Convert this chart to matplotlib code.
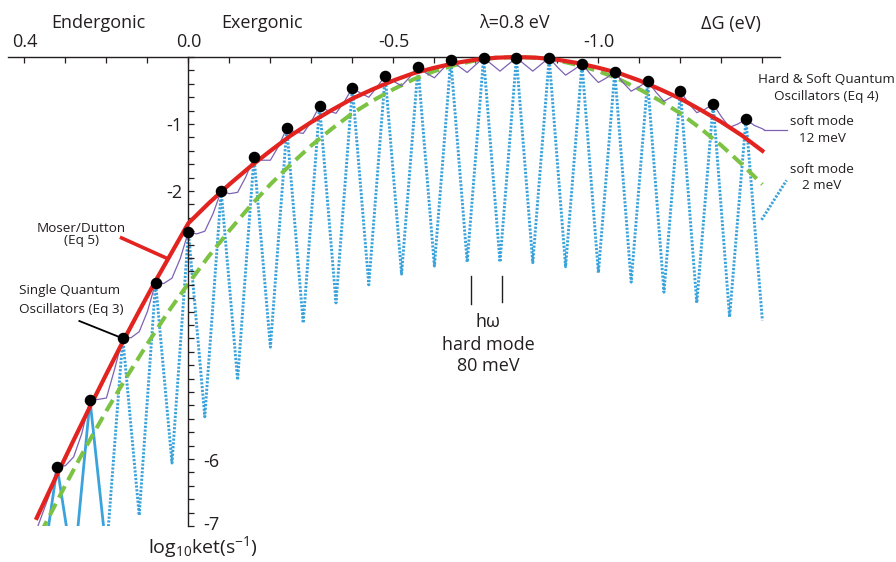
import matplotlib
matplotlib.use('Agg')
import matplotlib.pyplot as plt
from matplotlib.ticker import MultipleLocator

plt.rcParams['font.family'] = ['Open Sans', 'DejaVu Sans']
plt.rcParams['mathtext.fontset'] = 'custom'
plt.rcParams['mathtext.rm'] = 'Open Sans'
plt.rcParams['mathtext.it'] = 'Open Sans:italic'

# vibronic peaks (single quantum oscillators, black dots), dG in eV, log10 k relative
peak_dg = [0.32, 0.24, 0.16, 0.08, 0.00, -0.08, -0.16, -0.24, -0.32, -0.40, -0.48,
           -0.56, -0.64, -0.72, -0.80, -0.88, -0.96, -1.04, -1.12, -1.20, -1.28, -1.36]
peak_logk = [-6.12, -5.12, -4.19, -3.37, -2.61, -2.00, -1.49, -1.06, -0.73, -0.46, -0.28,
             -0.15, -0.04, -0.01, -0.01, -0.01, -0.10, -0.22, -0.36, -0.51, -0.70, -0.93]

# minima of the 2 meV soft mode curve between the peaks
trough_dg = [0.36, 0.28, 0.20, 0.12, 0.04, -0.04, -0.12, -0.20, -0.28, -0.36, -0.44, -0.52,
             -0.60, -0.68, -0.76, -0.84, -0.92, -1.00, -1.08, -1.16, -1.24, -1.32, -1.40]
trough_logk = [-7.8, -7.7, -7.4, -6.84, -6.06, -5.37, -4.82, -4.33, -3.97, -3.67, -3.40, -3.24,
               -3.12, -3.06, -3.06, -3.07, -3.13, -3.22, -3.36, -3.51, -3.67, -3.88, -3.93]

# Moser/Dutton (Eq 5)
red_dg = [0.37, 0.36, 0.32, 0.28, 0.24, 0.20, 0.16, 0.12, 0.08, 0.04,
          0.00, -0.05, -0.10, -0.15, -0.20, -0.25, -0.30, -0.35, -0.40, -0.45, -0.50,
          -0.55, -0.60, -0.65, -0.70, -0.75, -0.80, -0.85, -0.90, -0.95, -1.00, -1.05,
          -1.10, -1.15, -1.20, -1.25, -1.30, -1.35, -1.40]
red_logk = [-6.88, -6.75, -6.23, -5.72, -5.22, -4.73, -4.25, -3.79, -3.34, -2.91,
            -2.48, -2.18, -1.90, -1.64, -1.40, -1.17, -0.97, -0.79, -0.62, -0.48, -0.35,
            -0.24, -0.16, -0.09, -0.04, -0.01, 0.00, -0.01, -0.04, -0.09, -0.16, -0.24,
            -0.35, -0.48, -0.62, -0.79, -0.97, -1.17, -1.40]

# classical Marcus (green dashed)
green_dg = [0.36, 0.30, 0.25, 0.20, 0.15, 0.10, 0.05, 0.00, -0.05, -0.10, -0.15, -0.20,
            -0.25, -0.30, -0.35, -0.40, -0.45, -0.50, -0.55, -0.60, -0.65, -0.70, -0.75,
            -0.80, -0.85, -0.90, -0.95, -1.00, -1.05, -1.10, -1.15, -1.20, -1.25, -1.30,
            -1.35, -1.40]
green_logk = [-7.10, -6.39, -5.82, -5.28, -4.77, -4.28, -3.81, -3.38, -2.97, -2.59, -2.23, -1.90,
              -1.60, -1.32, -1.07, -0.84, -0.65, -0.48, -0.33, -0.21, -0.12, -0.05, -0.01,
              0.00, -0.01, -0.05, -0.12, -0.21, -0.33, -0.48, -0.65, -0.84, -1.07, -1.32,
              -1.60, -1.90]

# hard & soft quantum oscillators, soft mode 12 meV (purple)
purple_dg = [0.37, 0.34, 0.32, 0.30, 0.28, 0.26, 0.24, 0.22, 0.20, 0.18, 0.16, 0.14, 0.12,
             0.10, 0.08, 0.06, 0.04, 0.02, 0.00, -0.02, -0.04, -0.06, -0.08, -0.10, -0.12,
             -0.14, -0.16, -0.18, -0.20, -0.22, -0.24, -0.26, -0.28, -0.30, -0.32, -0.34,
             -0.36, -0.38, -0.40, -0.42, -0.44, -0.46, -0.48, -0.50, -0.52, -0.54, -0.56,
             -0.58, -0.60, -0.62, -0.64, -0.66, -0.68, -0.70, -0.72, -0.74, -0.76, -0.78,
             -0.80, -0.82, -0.84, -0.86, -0.88, -0.90, -0.92, -0.94, -0.96, -0.98, -1.00,
             -1.02, -1.04, -1.06, -1.08, -1.10, -1.12, -1.14, -1.16, -1.18, -1.20, -1.22,
             -1.24, -1.26, -1.28, -1.30, -1.32, -1.34, -1.36, -1.38, -1.40, -1.405]
purple_logk = [-7.05, -6.55, -6.12, -6.10, -5.97, -5.62, -5.12, -5.11, -5.09, -4.66, -4.19, -4.19, -4.10,
               -3.80, -3.37, -3.38, -3.30, -3.01, -2.61, -2.64, -2.60, -2.34, -2.00, -2.04, -2.02,
               -1.79, -1.49, -1.54, -1.54, -1.33, -1.06, -1.12, -1.14, -0.96, -0.73, -0.80,
               -0.84, -0.67, -0.46, -0.54, -0.60, -0.45, -0.28, -0.36, -0.43, -0.30, -0.15,
               -0.24, -0.31, -0.18, -0.04, -0.14, -0.23, -0.12, -0.01, -0.11, -0.21, -0.11,
               -0.01, -0.11, -0.21, -0.11, -0.01, -0.15, -0.27, -0.19, -0.10, -0.25, -0.38,
               -0.31, -0.22, -0.38, -0.51, -0.44, -0.36, -0.52, -0.66, -0.59, -0.51, -0.69,
               -0.83, -0.78, -0.70, -0.89, -1.05, -1.00, -0.93, -1.02, -1.07, -1.09]

xtick_vals = [0.4, 0.3, 0.2, 0.1, 0.0, -0.1, -0.2, -0.3, -0.4, -0.5, -0.6, -0.7,
              -0.8, -0.9, -1.0, -1.1, -1.2, -1.3, -1.4]
xtick_labels = ['0.4', '', '', '', '0.0', '', '', '', '', '-0.5', '', '', '', '', '-1.0',
                '', '', '', '']
ytick_vals = [-7, -6, -5, -4, -3, -2, -1]
ytick_labels = ['', '', '', '', '', '-2', '-1']

RED = '#e3231f'
BLUE = '#3aa3db'
GREEN = '#7cc243'
PURPLE = '#7d62b3'
INK = '#231f20'

W, H = 896, 562
fig = plt.figure(figsize=(W / 100, H / 100), dpi=100)
ax = fig.add_axes([8 / W, 1 - 526 / H, 772 / W, 479 / H])


def fp(x, y):
    return x / W, 1 - y / H


# 2 meV soft mode curve: alternate trough / peak
bx, by = [], []
for i in range(len(peak_dg)):
    bx += [trough_dg[i], peak_dg[i]]
    by += [trough_logk[i], peak_logk[i]]
bx.append(trough_dg[-1])
by.append(trough_logk[-1])

dotted = (0, (0.75, 0.55))
ax.plot(bx[:5], by[:5], color=BLUE, lw=2.0, zorder=1)
ax.plot(bx[4:], by[4:], color=BLUE, lw=2.1, ls=dotted, zorder=1)
ax.plot(green_dg, green_logk, color=GREEN, lw=2.9, ls=(0, (3.2, 1.7)), zorder=2)
ax.plot(purple_dg, purple_logk, color=PURPLE, lw=0.9, zorder=3)
ax.plot(red_dg, red_logk, color=RED, lw=3.0, zorder=4)
ax.plot(peak_dg, peak_logk, 'o', color='black', ms=7.3, zorder=5, clip_on=False)

# leader lines
ax.plot([0.163, 0.054], [-2.70, -3.00], color=RED, lw=2.6, zorder=4, clip_on=False)
ax.plot([0.266, 0.168], [-3.94, -4.18], color='black', lw=1.3, zorder=5, clip_on=False)
ax.plot([-1.405, -1.46], [-1.09, -1.09], color=PURPLE, lw=0.9, clip_on=False)
ax.plot([-1.398, -1.459], [-2.43, -1.84], color=BLUE, lw=2.1, ls=dotted, clip_on=False)
ax.plot([-0.69, -0.69], [-3.27, -3.68], color=INK, lw=1.0)
ax.plot([-0.766, -0.766], [-3.27, -3.66], color=INK, lw=1.0)

ax.set_xlim(0.44, -1.443)
ax.set_ylim(-7.0, 0.15)

for s in ['right', 'bottom']:
    ax.spines[s].set_visible(False)
ax.spines['top'].set_position(('data', 0))
ax.spines['left'].set_position(('data', 0))
ax.spines['left'].set_bounds(-7, 0)
for s in ['top', 'left']:
    ax.spines[s].set_linewidth(1.0)
    ax.spines[s].set_color(INK)

ax.xaxis.set_ticks_position('top')
ax.yaxis.set_ticks_position('left')
ax.set_xticks(xtick_vals)
ax.set_xticklabels(xtick_labels)
ax.set_yticks(ytick_vals)
ax.set_yticklabels(ytick_labels)
ax.yaxis.set_minor_locator(MultipleLocator(0.2))
ax.tick_params(axis='x', direction='in', length=4, width=0.9, pad=4, labelsize=13,
               colors=INK)
ax.tick_params(axis='y', which='both', direction='in', length=4.3, width=0.9, pad=4,
               labelsize=13, colors=INK)

txt = dict(color=INK, ha='center', va='baseline')
fig.text(*fp(98, 28), 'Endergonic', fontsize=13, **txt)
fig.text(*fp(262, 28), 'Exergonic', fontsize=13, **txt)
fig.text(*fp(514, 28), 'λ=0.8 eV', fontsize=13, **txt)
fig.text(*fp(731, 29), 'ΔG (eV)', fontsize=13, **txt)
fig.text(*fp(211, 467), '-6', fontsize=13, **txt)
fig.text(*fp(211, 530), '-7', fontsize=13, **txt)

small = 9.7
fig.text(*fp(826, 83), 'Hard & Soft Quantum', fontsize=small, **txt)
fig.text(*fp(826, 100), 'Oscillators (Eq 4)', fontsize=small, **txt)
fig.text(*fp(822, 125), 'soft mode', fontsize=small, **txt)
fig.text(*fp(822, 142), '12 meV', fontsize=small, **txt)
fig.text(*fp(822, 173), 'soft mode', fontsize=small, **txt)
fig.text(*fp(822, 189), '2 meV', fontsize=small, **txt)
fig.text(*fp(81, 232), 'Moser/Dutton', fontsize=small, **txt)
fig.text(*fp(82, 244), '(Eq 5)', fontsize=small, **txt)
fig.text(*fp(19, 294), 'Single Quantum', fontsize=small, color=INK, ha='left', va='baseline')
fig.text(*fp(19, 313), 'Oscillators (Eq 3)', fontsize=small, color=INK, ha='left', va='baseline')

fig.text(*fp(488, 327), 'hω', fontsize=13, **txt)
fig.text(*fp(488, 350), 'hard mode', fontsize=13, **txt)
fig.text(*fp(488, 371), '80 meV', fontsize=13, **txt)

fig.text(*fp(203, 553), r'log$_{10}$ket(s$^{-1}$)', fontsize=14, **txt)

fig.savefig('out.png', dpi=100)
